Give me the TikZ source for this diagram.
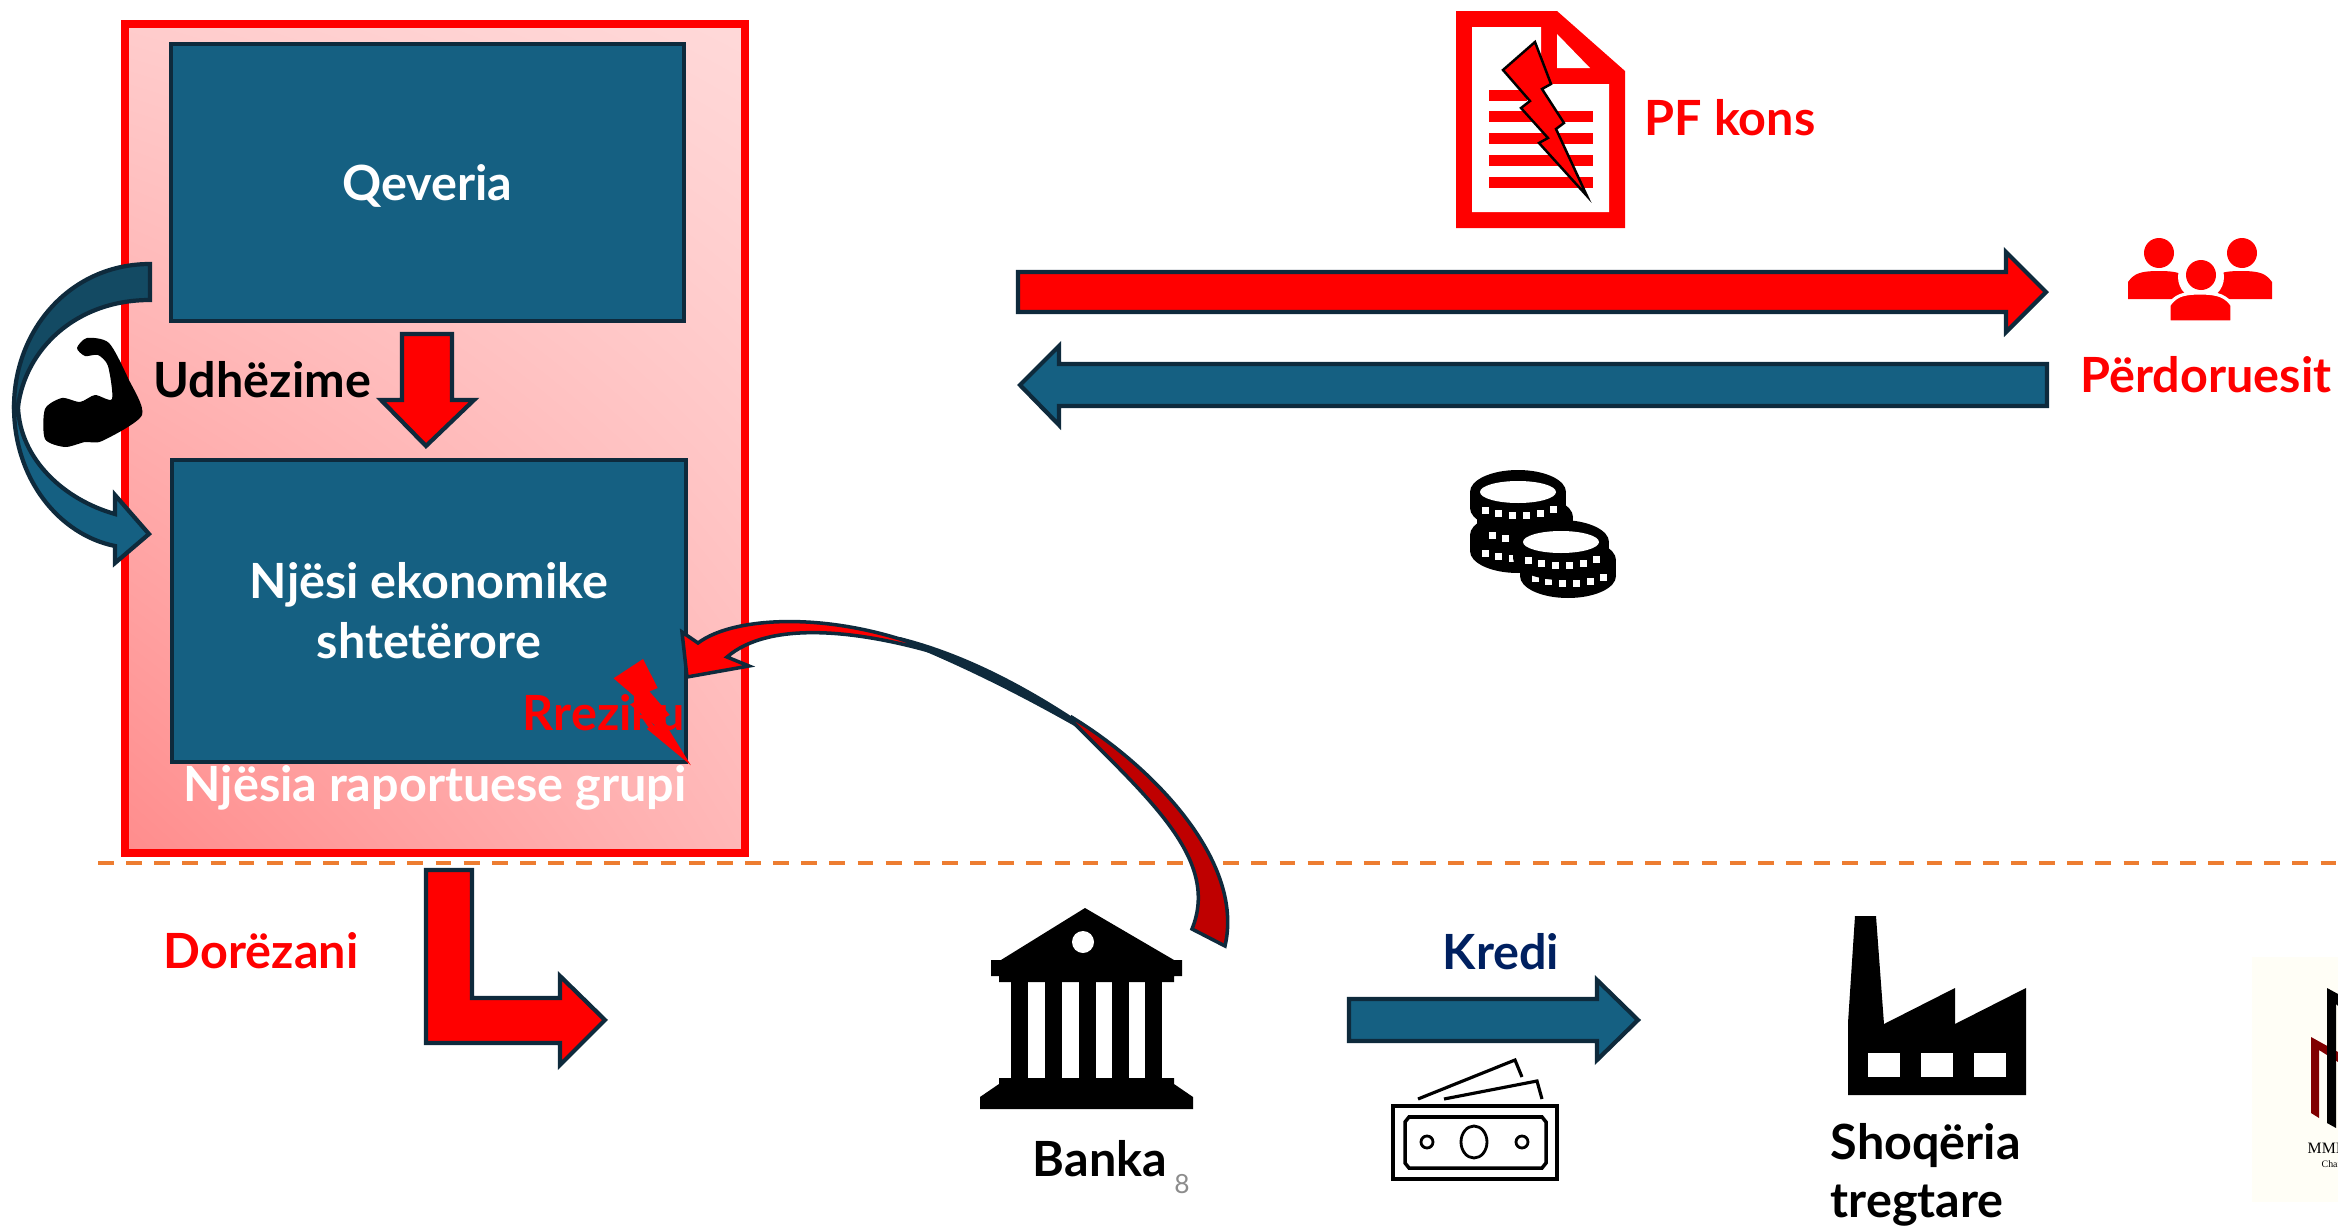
\documentclass[tikz,border=0pt]{standalone}
\usepackage{fontspec}
\usetikzlibrary{shadings}
\setmainfont{Lato}
\newfontfamily\logofont{Liberation Serif}
\definecolor{tealbox}{HTML}{156082}
\definecolor{tealdark}{HTML}{134A63}
\definecolor{edgedark}{HTML}{0E2A3C}
\definecolor{creditnavy}{HTML}{002060}
\definecolor{cutorange}{HTML}{ED7D31}
\definecolor{logocream}{HTML}{FFFEF6}
\definecolor{logored}{HTML}{800000}
\begin{document}
\begin{tikzpicture}[x=0.01cm,y=-0.01cm]
        \tikzstyle{every node}=[inner sep=0pt, font=\bfseries\fontsize{13.8}{17}\selectfont]
        \tikzstyle{bluebox}=[draw=edgedark, line width=1.2pt, fill=tealbox, text=white, align=center, minimum width=5.12cm]
        \tikzstyle{redblock}=[draw=edgedark, line width=1.2pt, fill=red]
        \tikzstyle{blueblock}=[draw=edgedark, line width=1.2pt, fill=tealbox]
        \tikzstyle{redtext}=[text=red]
        \tikzstyle{blacktext}=[text=black, anchor=west]
        \useasboundingbox (0,0) rectangle (2338,1227);
        % group frame and the two boxes
        \node[draw=red, line width=2.3pt, minimum width=6.2cm, minimum height=8.29cm, lower left=red!45, lower right=red!28, upper left=red!20, upper right=red!15] (frame) at (435,438.5) {};
        \node[bluebox, minimum height=2.77cm, text depth=0pt] (qeveria) at (427.5,182.5) {Qeveria};
        \node[bluebox, minimum width=5.14cm, minimum height=3.02cm] (njesi) at (429,611) {\baselineskip=16.5pt Njësi ekonomike\\shtetërore};
        \node[text=white] (grupi) at (435,788) {Njësia raportuese grupi};
        % instruction arrows
        \draw[redblock] (402,334) -- (452,334) -- (452,400) -- (474,400) -- (426,446) -- (381,400) -- (402,400) -- cycle;
        \draw[blueblock, fill=tealdark] (150,264) .. controls (70,264) and (14,330) .. (14,407) -- (18,407) .. controls (25,350) and (75,300) .. (150,300) -- cycle;
        \draw[blueblock] (14,407) .. controls (14,480) and (60,535) .. (115,546) -- (115,563) -- (149,534) -- (115,495) -- (115,514) .. controls (65,500) and (20,460) .. (18,407) -- cycle;
        \fill[black] plot[smooth cycle, tension=0.45] coordinates {(77,348) (87,338) (109,343) (128,378) (142,415) (102,441) (85,442) (65,447) (45,439) (45,409) (62,398) (80,402) (95,395) (112,399) (108,366) (98,355) (85,356)};
        \node[blacktext] (udhezime) at (153,380) {Udhëzime};
        % risk bolt inside the box
        \fill[red, shift={(643,659)}, xscale=0.92, yscale=0.69] (0,0) -- (16,42) -- (7,47) -- (29,81) -- (21,87) -- (52,154) -- (4,101) -- (13,96) -- (-14,66) -- (-5,59) -- (-32,28) -- cycle;
        \node[redtext] (rreziku) at (604,713) {Rreziku};
        % cut line
        \draw[cutorange, line width=1pt, dash pattern=on 4.5pt off 3.5pt] (98,863) -- (2338,863);
        \node[redtext] (dorezani) at (261,951) {Dorëzani};
        \draw[redblock] (426,870) -- (472,870) -- (472,998) -- (560,998) -- (560,976) -- (605,1020) -- (560,1065) -- (560,1043) -- (426,1043) -- cycle;
        % bank to box
        \fill[edgedark] (900,637) .. controls (960,652) and (1020,682) .. (1080,722) -- (1078,728) .. controls (1020,695) and (960,665) .. (900,641) -- cycle;
        \draw[draw=edgedark, line width=1pt, fill=red!75!black] (1073,718) .. controls (1150,765) and (1245,860) .. (1225,946) -- (1192,929) .. controls (1220,860) and (1150,800) .. (1073,722) -- cycle;
        \draw[redblock, line width=1pt] (698,643) .. controls (735,615) and (840,610) .. (943,655) .. controls (860,630) and (770,620) .. (727,657) -- (749,666) -- (687,677) -- (682,632) -- cycle;
        % bank
        \fill[black] (1085,908) -- (1174,960) -- (1182,960) -- (1182,976) -- (1174,976) -- (1174,982) -- (999,982) -- (999,976) -- (991,976) -- (991,960) -- (1001,960) -- cycle;
        \foreach \colx in {1011,1045,1079,1112,1145}
            \fill[black] (\colx,980) rectangle +(17,100);
        \fill[black] (999,1078) -- (1174,1078) -- (1174,1084) -- (1193,1097) -- (1193,1109) -- (980,1109) -- (980,1097) -- (999,1084) -- cycle;
        \fill[white] (1083,942) circle (11);
        \node (banka) at (1100,1159) {Banka};
        \node[font=\fontsize{7.5}{9}\selectfont, text=black!45] (pagenum) at (1182,1184) {8};
        % credit
        \node[text=creditnavy] (kredi) at (1501,952) {Kredi};
        \draw[blueblock] (1349,999) -- (1597,999) -- (1597,980) -- (1638,1020) -- (1597,1060) -- (1597,1041) -- (1349,1041) -- cycle;
        \draw[line width=1pt] (1393,1106) rectangle (1557,1179);
        \draw[line width=1pt] (1409,1117) -- (1542,1117) -- (1546,1122) -- (1546,1163) -- (1542,1168) -- (1409,1168) -- (1405,1163) -- (1405,1122) -- cycle;
        \draw[line width=0.8pt] (1474,1142) ellipse [x radius=13, y radius=16];
        \foreach \dotx in {1427,1522}
            \draw[line width=0.8pt] (\dotx,1142) circle (6);
        \draw[line width=0.9pt] (1418,1099) -- (1515,1060) -- (1522,1077);
        \draw[line width=0.9pt] (1444,1099) -- (1537,1081) -- (1542,1099);
        % factory
        \fill[black] (1855,916) -- (1876,916) -- (1884,1024) -- (1955,988) -- (1955,1024) -- (2026,988) -- (2026,1095) -- (1848,1095) -- (1848,1023) -- cycle;
        \foreach \winx in {1868,1921,1974}
            \fill[white] (\winx,1053) rectangle +(32,24);
        \node[anchor=west] (shoqeria) at (1830,1146) {Shoqëria};
        \node[anchor=west] (tregtare) at (1830,1206) {tregtare};
        % logo, cut by the page edge
        \fill[logocream] (2252,957) rectangle (2338,1202);
        \fill[logored] (2311,1037) -- (2338,1052) -- (2338,1062) -- (2319,1050) -- (2319,1118) -- (2311,1113) -- cycle;
        \fill[black] (2327,988) -- (2338,994) -- (2338,1006) -- (2336,1004) -- (2336,1128) -- (2327,1123) -- cycle;
        \node[anchor=west, font=\logofont\fontsize{4.5}{6}\selectfont] (logoname) at (2307,1148) {MMI};
        \node[anchor=west, font=\logofont\fontsize{2.8}{4}\selectfont] (logosub) at (2321,1164) {Char};
        % report with bolt
        \fill[red] (1456,11) -- (1557,11) -- (1625,71) -- (1625,228) -- (1456,228) -- cycle;
        \fill[white] (1472,27) -- (1541,27) -- (1541,84) -- (1609,84) -- (1609,212) -- (1472,212) -- cycle;
        \fill[white] (1557,34) -- (1590,68) -- (1557,68) -- cycle;
        \fill[red] (1489,90) rectangle (1527,101);
        \foreach \liney in {111,133,155,177}
            \fill[red] (1489,\liney) rectangle +(104,11);
        \draw[fill=red, line width=0.7pt, shift={(1535,42)}] (0,0) -- (16,42) -- (7,47) -- (29,81) -- (21,87) -- (52,154) -- (4,101) -- (13,96) -- (-14,66) -- (-5,59) -- (-32,28) -- cycle;
        \node[redtext] (pfkons) at (1730,118) {PF kons};
        % flows
        \draw[redblock] (1018,272) -- (2006,272) -- (2006,252) -- (2046,292) -- (2006,332) -- (2006,312) -- (1018,312) -- cycle;
        \draw[blueblock] (2047,364) -- (1059,364) -- (1059,346) -- (1020,385) -- (1059,425) -- (1059,406) -- (2047,406) -- cycle;
        % users
        \foreach \bodyx in {2128,2210}
            \fill[red] (\bodyx,299) -- (\bodyx,282) .. controls ++(6,-8) and ++(-20,0) .. (\bodyx+31,271) .. controls ++(20,0) and ++(-6,-8) .. (\bodyx+62,282) -- (\bodyx+62,299) -- cycle;
        \fill[red] (2159,253) circle (15);
        \fill[red] (2242,253) circle (15);
        \fill[white] (2201,277) circle (23);
        \draw[white, line width=0.9pt, fill=red] (2169,322) -- (2169,305) .. controls ++(6,-8) and ++(-20,0) .. (2200,293) .. controls ++(20,0) and ++(-6,-8) .. (2232,305) -- (2232,322) -- cycle;
        \fill[red] (2201,275) circle (15);
        \node[redtext] (perdoruesit) at (2206,375) {Përdoruesit};
        % coins
        \foreach \coinx/\coiny in {1518/535, 1525/517, 1518/492, 1568/560, 1561/542} {
            \fill[black] (\coinx,\coiny) ellipse [x radius=48, y radius=22];
            \fill[black] (\coinx-48,\coiny) rectangle (\coinx+48,\coiny+16);
            \fill[black] (\coinx,\coiny+16) ellipse [x radius=48, y radius=22];
            \foreach \tick in {-33,-20,-6,8,22,35}
                \fill[white] ({\coinx+\tick-3},{\coiny+20-6*(\tick/35)*(\tick/35)}) rectangle +(7,7);
        }
        \foreach \topx/\topy in {1518/492, 1561/542}
            \fill[white] (\topx,\topy) ellipse [x radius=38, y radius=11];
    \end{tikzpicture}
\end{document}
